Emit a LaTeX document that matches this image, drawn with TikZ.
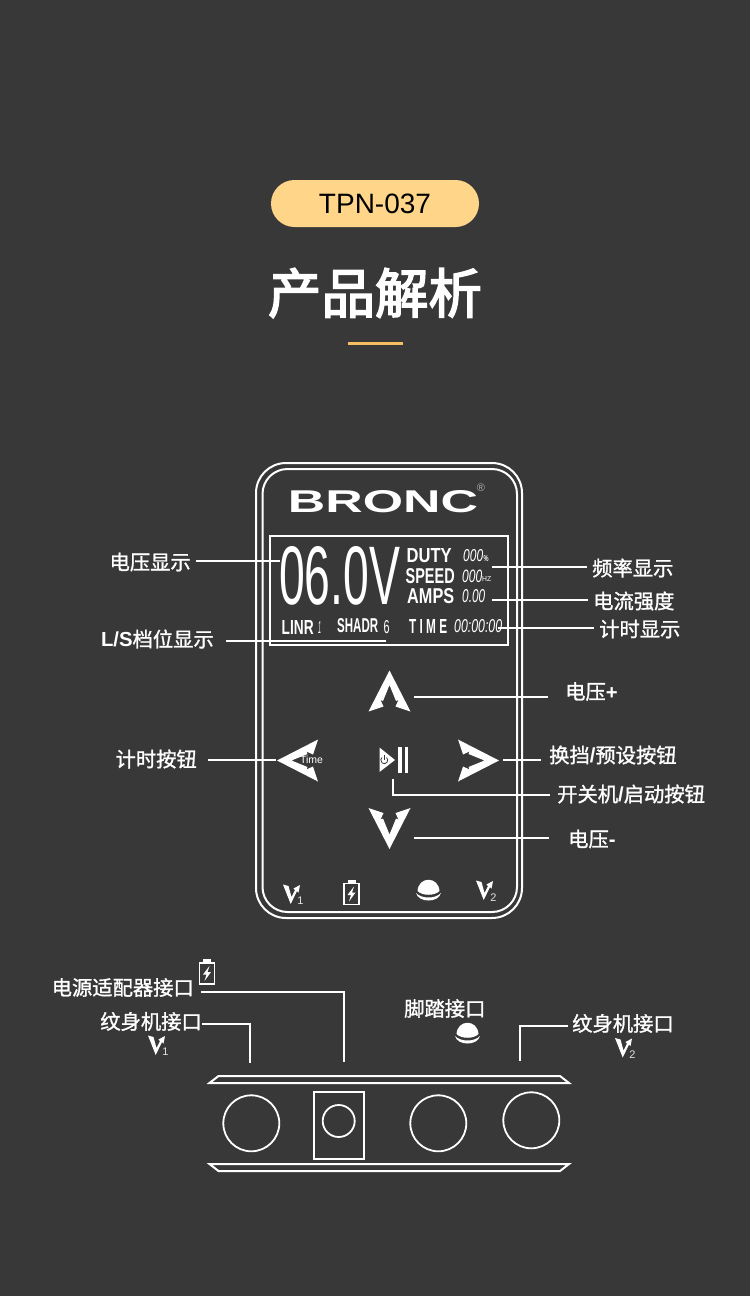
\documentclass[tikz,border=0pt]{standalone}
\usepackage{graphicx}
\usepackage{fontspec}
\setmainfont{Liberation Sans}
\newfontfamily\cjk[FakeBold=1.3]{Noto Sans CJK SC}
\newfontfamily\cjktitle[FakeBold=3]{Noto Sans CJK SC}
\definecolor{panelbg}{HTML}{383838}
\definecolor{pillcol}{HTML}{FFD58A}
\definecolor{barcol}{HTML}{F6BE63}
\begin{document}
\begin{tikzpicture}[x=1pt, y=-1pt,
    lbl/.style={text=white, inner sep=0pt, inner xsep=5pt, font=\cjk\fontsize{20.3}{21}\selectfont},
    leader/.style={draw=white, line width=2pt},
    outl/.style={draw=white, line width=2pt},
    portc/.style={draw=white, line width=1.8pt, circle, inner sep=0pt},
    lcd/.style={text=white, inner sep=0pt, anchor=west},
    subn/.style={text=white!85!panelbg, inner sep=0pt, font=\fontsize{11}{11}\selectfont},
    arrowbtn/.pic={\fill[white] (0,-22) -- (-21,19) -- (-6,14) -- (-9,7.5) -- (-6.5,8.5) -- (0,-7.5) -- (6.5,8.5) -- (9,7.5) -- (6,14) -- (21,19) -- cycle;},
    vicon/.pic={\fill[white] (-10,-10.5) -- (-4.5,-9) -- (-1.5,2) -- (2,-5) -- (0.5,-6.5) -- (7,-10) -- (5.5,-2.5) -- (4,-4) -- (-2.3,9) -- cycle;},
    batticon/.pic={\draw[white, line width=1.5pt] (-7.5,-9) rectangle (7.5,12);
        \fill[white] (-4,-13) rectangle (4,-9);
        \fill[white] (2.5,-6) -- (-4,2.5) -- (-0.5,2.5) -- (-2.5,9) -- (4,0) -- (0.5,0) -- cycle;},
    domeicon/.pic={\fill[white] (-11,1) .. controls (-10,-14) and (10,-14) .. (11,1) .. controls (6,6) and (-6,6) .. cycle;
        \fill[white] (-12.5,3) .. controls (-7,9) and (7,9) .. (12.5,3) .. controls (10,13) and (-10,13) .. cycle;}]
    \useasboundingbox (0,0) rectangle (750,1296);
    \fill[panelbg] (0,0) rectangle (750,1296);
    % heading
    \node[fill=pillcol, rounded corners=23.5pt, minimum width=208pt, minimum height=47pt, inner sep=0pt,
        font=\fontsize{28}{28}\selectfont, text=black] (model) at (375,203.5) {TPN-037};
    \node[text=white, inner sep=0pt, font=\cjktitle\fontsize{53.5}{54}\selectfont] (title) at (375,293) {产品解析};
    \fill[barcol] (348,342) rectangle (403,345);
    % casing
    \draw[outl, rounded corners=30pt] (256,463) rectangle (522,918);
    \draw[outl, rounded corners=25pt] (262.5,469) rectangle (517,912);
    \node[text=white, inner sep=0pt, font=\bfseries] (logo) at (383,502) {\resizebox{190pt}{22pt}{BRONC}};
    \node[text=white!60!panelbg, inner sep=0pt, font=\fontsize{11}{11}\selectfont] (regmark) at (481,488) {®};
    \draw[outl] (270,536) rectangle (508,645);
    % lcd
    \node[lcd] (volts) at (279,576) {\resizebox{121pt}{58pt}{06.0V}};
    \node[lcd, font=\bfseries] (duty) at (406.5,556) {\resizebox{45pt}{14pt}{DUTY}};
    \node[lcd, font=\bfseries] (speed) at (405.5,576) {\resizebox{49pt}{15pt}{SPEED}};
    \node[lcd, font=\bfseries] (amps) at (407,596) {\resizebox{47pt}{15pt}{AMPS}};
    \node[lcd, font=\bfseries] (timetxt) at (409,626) {\resizebox{38pt}{14pt}{T I M E}};
    \node[lcd, font=\bfseries] (linr) at (281.5,627) {\resizebox{32pt}{14pt}{LINR}};
    \node[lcd, font=\itshape] (linrval) at (318,627) {\resizebox{3pt}{12pt}{1}};
    \node[lcd, font=\bfseries] (shadr) at (337,626) {\resizebox{41pt}{14pt}{SHADR}};
    \node[lcd] (shadrval) at (383.5,627) {\resizebox{6pt}{13pt}{6}};
    \node[lcd, font=\itshape] (dutyval) at (463,556) {\resizebox{20pt}{12pt}{000}};
    \node[lcd, font=\bfseries] (dutyunit) at (483.5,559) {\resizebox{5pt}{6pt}{\%}};
    \node[lcd, font=\itshape] (speedval) at (462,576) {\resizebox{20pt}{12.5pt}{000}};
    \node[lcd] (speedunit) at (482,579) {\resizebox{9pt}{5pt}{HZ}};
    \node[lcd, font=\itshape] (ampsval) at (462,596) {\resizebox{23pt}{13pt}{0.00}};
    \node[lcd, font=\itshape] (timeval) at (454,626) {\resizebox{48pt}{13pt}{00:00:00}};
    % buttons
    \pic at (389.5,692.5) {arrowbtn};
    \pic[rotate=90] at (299,760.5) {arrowbtn};
    \pic[rotate=-90] at (477,760.5) {arrowbtn};
    \pic[rotate=180] at (389.5,827) {arrowbtn};
    \node[text=white, inner sep=0pt, font=\fontsize{10.5}{11}\selectfont] (timelbl) at (311.5,760) {Time};
    \fill[white] (379.5,747.5) -- (395,760) -- (379.5,772) -- cycle;
    \draw[panelbg, line width=.8pt] (386.5,757.5) arc[start angle=-50, end angle=230, radius=3.5];
    \draw[panelbg, line width=.8pt] (384.5,755) -- (384.5,760);
    \fill[white] (398.3,747) rectangle (401.5,773);
    \fill[white] (405.2,747) rectangle (408.4,773);
    % icons on the panel
    \pic at (293,895) {vicon};
    \node[subn] (vone) at (300.5,901) {1};
    \pic at (351.5,892.5) {batticon};
    \pic at (428.5,890) {domeicon};
    \pic at (486,891) {vicon};
    \node[subn] (vtwo) at (493.5,898) {2};
    % labels and leaders
    \node[lbl, anchor=east] (voltlbl) at (196,562) {电压显示};
    \coordinate (voltend) at (280,561);
    \draw[leader] (voltend -| voltlbl.east) -- (voltend);
    \node[lbl, anchor=west] (freqlbl) at (587,568) {频率显示};
    \coordinate (freqend) at (492,567);
    \draw[leader] (freqend -| freqlbl.west) -- (freqend);
    \node[lbl, anchor=west] (curlbl) at (588,601) {电流强度};
    \coordinate (curend) at (492,600);
    \draw[leader] (curend -| curlbl.west) -- (curend);
    \node[lbl, anchor=west] (clocklbl) at (594,629) {计时显示};
    \coordinate (clockend) at (498,628);
    \draw[leader] (clockend -| clocklbl.west) -- (clockend);
    \node[lbl, anchor=east] (gearlbl) at (219,639) {{\rmfamily\bfseries L/S}档位显示};
    \coordinate (gearend) at (386,641);
    \draw[leader, shorten <=7pt] (gearend -| gearlbl.east) -- (gearend);
    \node[lbl, anchor=west] (uplbl) at (560,691.5) {电压{\rmfamily\bfseries +}};
    \coordinate (upstart) at (414,697);
    \draw[leader, shorten >=12pt] (upstart) -- (upstart -| uplbl.west);
    \node[lbl, anchor=east] (timerlbl) at (202,759) {计时按钮};
    \coordinate (timerend) at (276,760);
    \draw[leader, shorten <=6pt] (timerend -| timerlbl.east) -- (timerend);
    \node[lbl, anchor=west] (modelbl) at (544,755) {换挡{\rmfamily\bfseries /}预设按钮};
    \coordinate (modeend) at (503,760);
    \draw[leader, shorten >=3pt] (modeend) -- (modeend -| modelbl.west);
    \node[lbl, anchor=west] (pwrlbl) at (552,794) {开关机{\rmfamily\bfseries /}启动按钮};
    \coordinate (pwrend) at (393,779);
    \coordinate (pwrbend) at (550,795);
    \draw[leader] (pwrend) |- (pwrbend);
    \node[lbl, anchor=west] (downlbl) at (563,839) {电压{\rmfamily\bfseries -}};
    \coordinate (downstart) at (414,838);
    \draw[leader, shorten >=14pt] (downstart) -- (downstart -| downlbl.west);
    % rear panel
    \draw[outl] (209.5,1083) -- (218.5,1076) -- (560,1076) -- (569,1083) -- cycle;
    \draw[outl] (209.5,1164) -- (218.5,1171) -- (560,1171) -- (569,1164) -- cycle;
    \node[portc, minimum size=56pt] (portone) at (251.3,1123.3) {};
    \node[draw=white, line width=2pt, minimum width=50pt, minimum height=67pt, inner sep=0pt] (powerbox) at (339,1125.5) {};
    \node[portc, minimum size=32pt] (powerport) at (338.7,1121) {};
    \node[portc, minimum size=56pt] (footport) at (438.3,1123.3) {};
    \node[portc, minimum size=56pt] (porttwo) at (531.3,1120.3) {};
    \node[lbl, anchor=east, inner xsep=0pt] (adaptlbl) at (194,987.5) {电源适配器接口};
    \coordinate (adaptstart) at (201,992);
    \coordinate (adaptend) at (344,1062);
    \draw[leader] (adaptstart) -| (adaptend);
    \pic at (207,972) {batticon};
    \node[lbl, anchor=east, inner xsep=0pt] (onelbl) at (202,1021.5) {纹身机接口};
    \coordinate (oneend) at (250,1063);
    \draw[leader] (oneend |- 0,1024) ++(-48,0) -| (oneend);
    \pic at (158,1046) {vicon};
    \node[subn] (vonebot) at (165.5,1052) {1};
    \node[lbl, anchor=west, inner xsep=0pt] (footlbl) at (404,1008.5) {脚踏接口};
    \pic at (467.5,1033) {domeicon};
    \node[lbl, anchor=west, inner xsep=0pt] (twolbl) at (572,1023.5) {纹身机接口};
    \coordinate (twostart) at (568,1026);
    \coordinate (twoend) at (520,1061);
    \draw[leader] (twostart) -| (twoend);
    \pic at (625,1048.5) {vicon};
    \node[subn] (vtwobot) at (632.5,1055) {2};
\end{tikzpicture}
\end{document}
